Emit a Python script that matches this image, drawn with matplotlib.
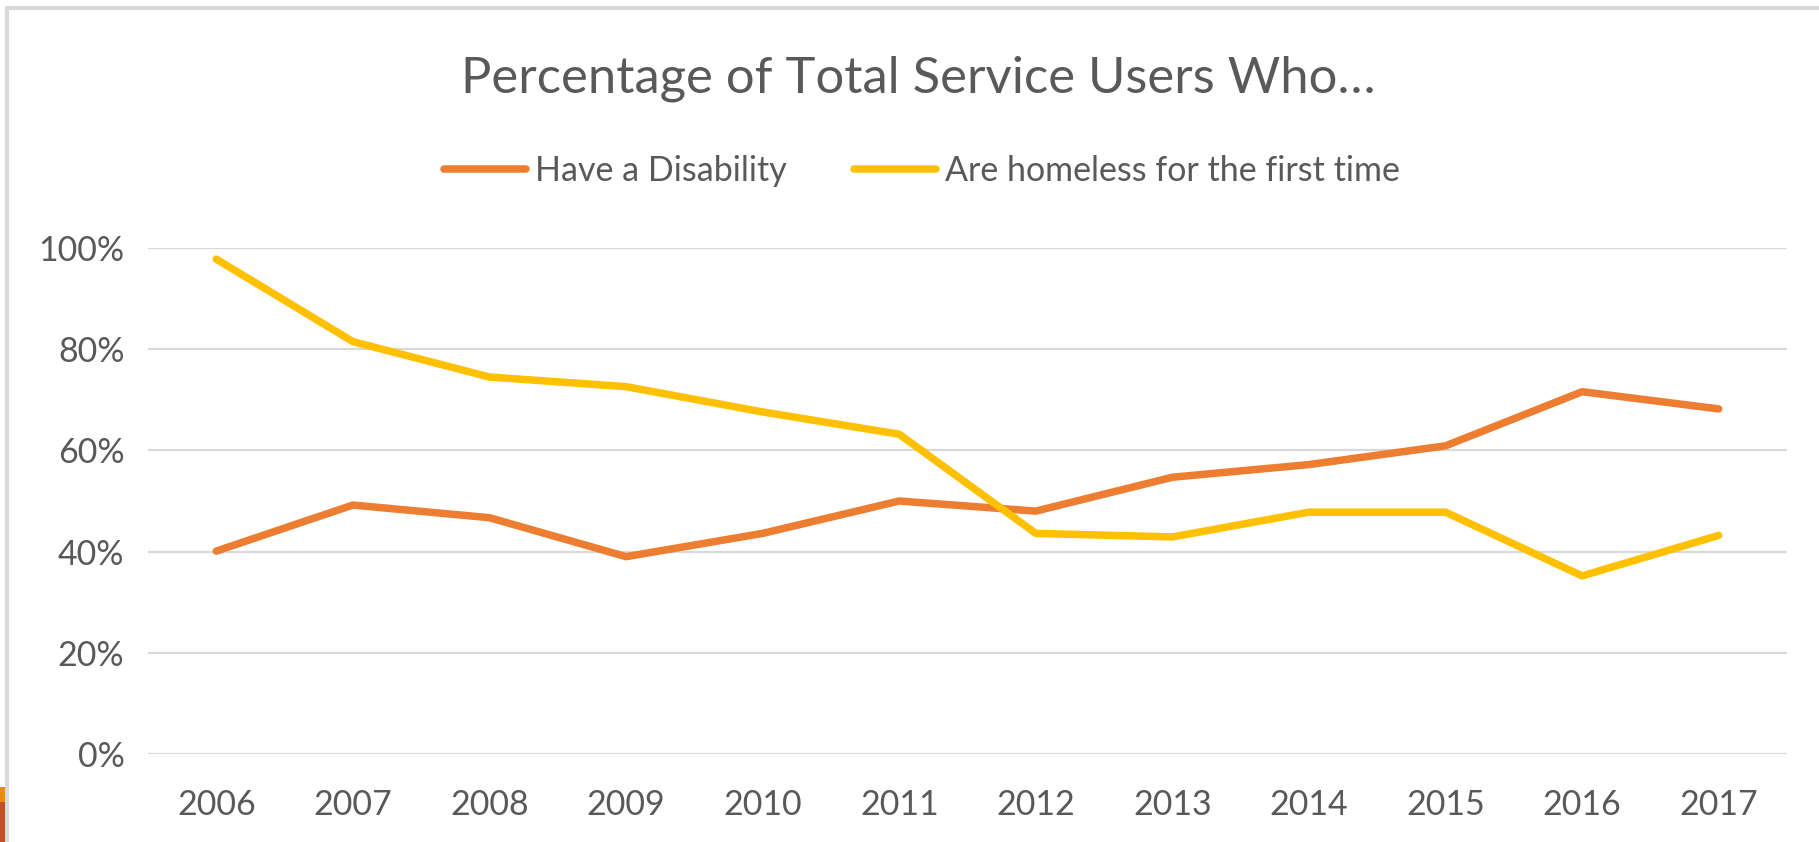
import matplotlib
matplotlib.use('Agg')
import matplotlib.pyplot as plt
from matplotlib.patches import Rectangle
from matplotlib.ticker import PercentFormatter

# share of all service users, per year (%)
years = ['2006', '2007', '2008', '2009', '2010', '2011',
         '2012', '2013', '2014', '2015', '2016', '2017']
disability = [40.1, 49.2, 46.7, 39.0, 43.6, 50.0, 48.0, 54.7, 57.2, 60.9, 71.6, 68.2]
first_time = [97.8, 81.5, 74.5, 72.6, 67.6, 63.2, 43.6, 42.9, 47.8, 47.8, 35.2, 43.2]
series_names = ['Have a Disability', 'Are homeless for the first time']
y_ticks = [0, 20, 40, 60, 80, 100]

plt.rcParams['font.family'] = ['Lato', 'DejaVu Sans']
txt_col = '#595959'
W, H = 1819, 842

fig = plt.figure(figsize=(W / 100, H / 100), dpi=100)
fig.patch.set_facecolor('white')

# frame of the chart box (runs off the right/bottom edge)
fig.patches.append(Rectangle((6.5 / W, -0.1), 2.0, 1.1 - 8 / H,
                             transform=fig.transFigure, fill=False,
                             edgecolor='#d9d9d9', linewidth=3, zorder=0))
# bits of the slide behind it, bottom left
fig.patches.append(Rectangle((0, (H - 802) / H), 5 / W, 15 / H,
                             transform=fig.transFigure, color='#e8891c', lw=0))
fig.patches.append(Rectangle((0, 0), 5 / W, (H - 802) / H,
                             transform=fig.transFigure, color='#c0502a', lw=0))

ax = fig.add_axes([148 / W, (H - 754) / H, (1787 - 148) / W, (754 - 248) / H])
x = range(len(years))
l1, = ax.plot(x, disability, color='#ED7D31', lw=5.4, solid_capstyle='round',
              solid_joinstyle='round', clip_on=False, zorder=3)
l2, = ax.plot(x, first_time, color='#FFC000', lw=5.4, solid_capstyle='round',
              solid_joinstyle='round', clip_on=False, zorder=3)

ax.set_xlim(-0.5, len(years) - 0.5)
ax.set_ylim(0, 100)
ax.set_xticks(list(x))
ax.set_xticklabels(years)
ax.set_yticks(y_ticks)
ax.yaxis.set_major_formatter(PercentFormatter(decimals=0))
ax.grid(axis='y', color='#d9d9d9', lw=1.6)
ax.set_axisbelow(True)
for s in ax.spines.values():
    s.set_visible(False)
ax.tick_params(axis='both', length=0, labelsize=24.5, labelcolor=txt_col)
ax.tick_params(axis='y', pad=17)
ax.tick_params(axis='x', pad=25)

fig.text(918 / W, (H - 93) / H, 'Percentage of Total Service Users Who\u2026',
         ha='center', va='baseline', fontsize=36.5, color=txt_col)

leg = fig.legend([l1, l2], series_names, loc='center', ncol=2,
                 bbox_to_anchor=(922 / W, (H - 171) / H), frameon=False,
                 fontsize=24.5, handlelength=2.4, handletextpad=0.25,
                 columnspacing=2.0)
for t in leg.get_texts():
    t.set_color(txt_col)

fig.savefig('out.png', dpi=100)
